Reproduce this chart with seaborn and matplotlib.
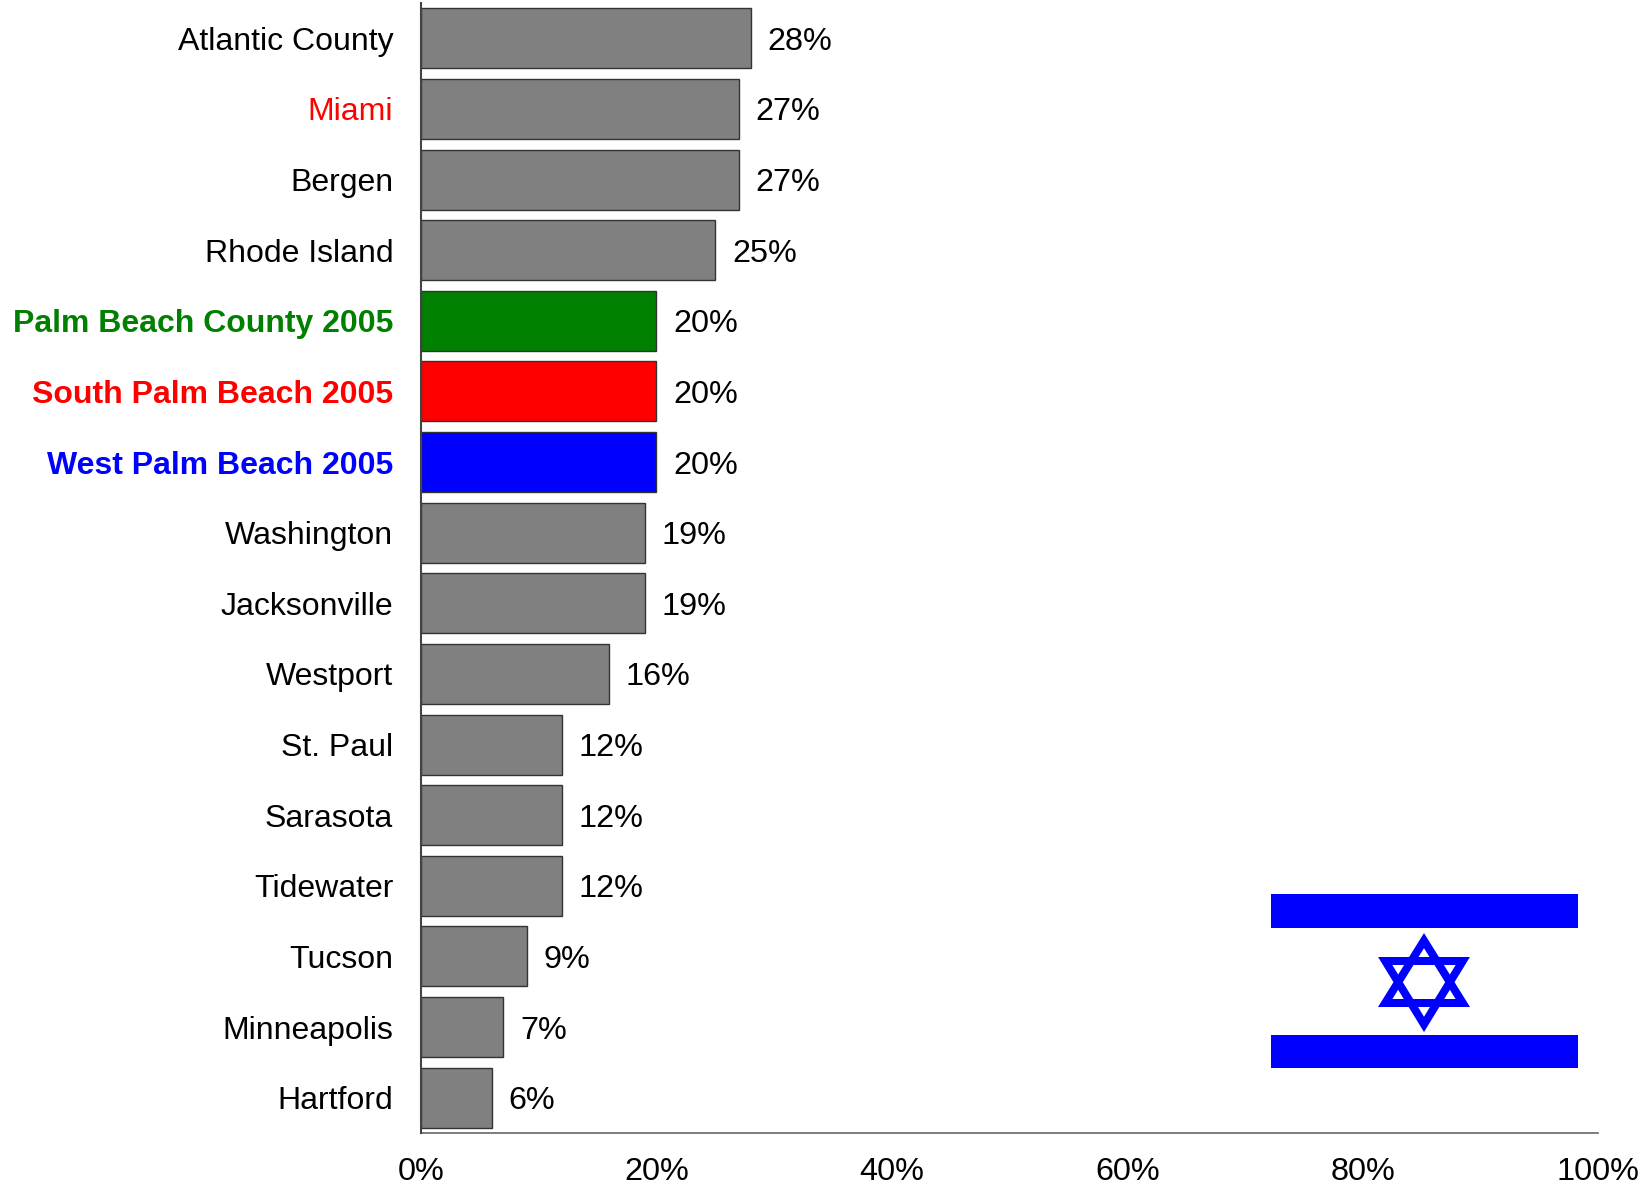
import matplotlib
matplotlib.use("Agg")
import matplotlib.pyplot as plt
from matplotlib.patches import Rectangle, Polygon
import pandas as pd
import seaborn as sns

places = ["Atlantic County", "Miami", "Bergen", "Rhode Island", "Palm Beach County 2005",
          "South Palm Beach 2005", "West Palm Beach 2005", "Washington", "Jacksonville",
          "Westport", "St. Paul", "Sarasota", "Tidewater", "Tucson", "Minneapolis", "Hartford"]
values = [28, 27, 27, 25, 20, 20, 20, 19, 19, 16, 12, 12, 12, 9, 7, 6]
x_ticks = [0, 20, 40, 60, 80, 100]

bar_colors = {"Palm Beach County 2005": "#008000", "South Palm Beach 2005": "#ff0000",
              "West Palm Beach 2005": "#0000ff"}
label_colors = {"Miami": "#ff0000", "Palm Beach County 2005": "#008000",
                "South Palm Beach 2005": "#ff0000", "West Palm Beach 2005": "#0000ff"}

sns.set_style("white")
plt.rcParams["font.family"] = ["Liberation Sans", "DejaVu Sans"]

W, H = 1652, 1183
fig = plt.figure(figsize=(W / 100, H / 100), dpi=100)
ax = fig.add_axes([421 / W, 1 - 1133 / H, (1598 - 421) / W, (1133 - 3) / H])

df = pd.DataFrame({"place": places, "value": values})
palette = {p: bar_colors.get(p, "#808080") for p in places}
sns.barplot(data=df, x="value", y="place", hue="place", palette=palette, legend=False,
            dodge=False, width=0.85, edgecolor="#333333", linewidth=1.0, saturation=1, ax=ax)

ax.set_xlim(0, 100)
ax.set_ylim(15.5, -0.5)
ax.set_xlabel("")
ax.set_ylabel("")
ax.set_xticks(x_ticks)
ax.set_xticklabels([f"{t}%" for t in x_ticks])
ax.tick_params(axis="x", length=0, pad=17, labelsize=23.3, labelcolor="black")
ax.tick_params(axis="y", length=0, pad=20, labelsize=23, labelcolor="black")

for lab in ax.get_yticklabels():
    name = lab.get_text()
    if name in label_colors:
        lab.set_color(label_colors[name])
    if name.endswith("2005"):
        lab.set_fontweight("bold")

for cont in ax.containers:
    for txt in ax.bar_label(cont, fmt="%d%%", padding=12, fontsize=23.3, color="black"):
        txt.set_verticalalignment("center_baseline")

sns.despine(ax=ax)
ax.spines["left"].set_color("#444444")
ax.spines["left"].set_linewidth(1.5)
ax.spines["left"].set_zorder(5)
ax.spines["bottom"].set_color("#666666")
ax.spines["bottom"].set_linewidth(1.2)

# flag, drawn on an overlay in pixel units
flag = fig.add_axes([0, 0, 1, 1], facecolor="none")
flag.set_xlim(0, W)
flag.set_ylim(H, 0)
flag.axis("off")
flag.add_patch(Rectangle((1271, 894), 307, 34, color="#0000ff", lw=0))
flag.add_patch(Rectangle((1271, 1035), 307, 33, color="#0000ff", lw=0))
flag.add_patch(Polygon([(1424, 940.6), (1385.2, 1003), (1462.8, 1003)], closed=True, fill=False,
                       edgecolor="#0000ff", linewidth=5.76, joinstyle="miter"))
flag.add_patch(Polygon([(1424, 1024.4), (1385.2, 961), (1462.8, 961)], closed=True, fill=False,
                       edgecolor="#0000ff", linewidth=5.76, joinstyle="miter"))

fig.savefig("out.png", dpi=100)
